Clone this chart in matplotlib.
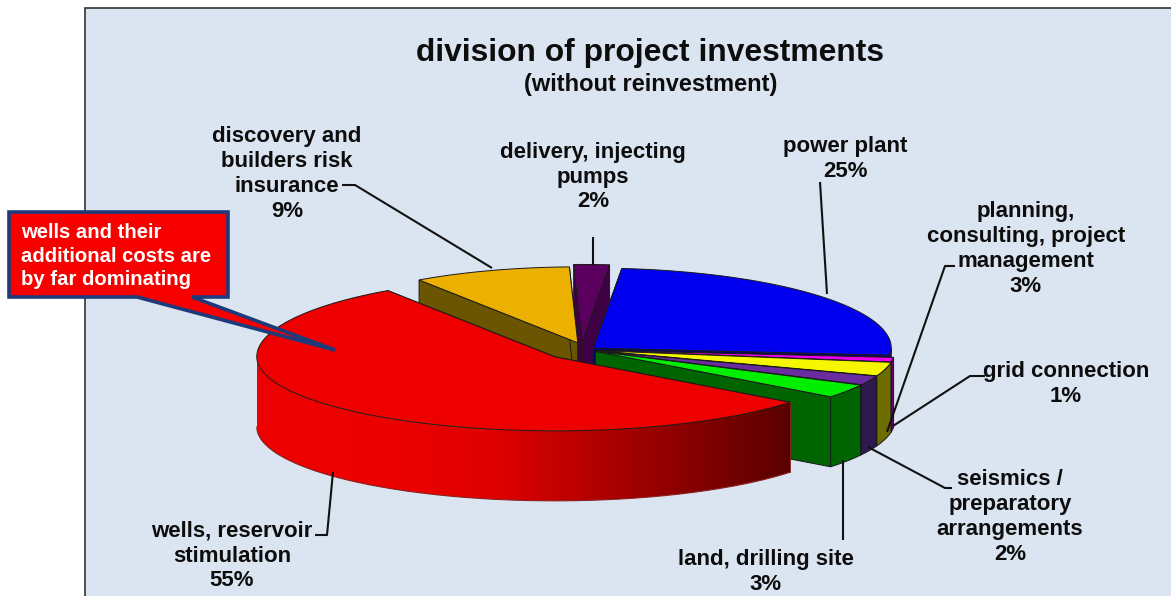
import numpy as np
import matplotlib
matplotlib.use("Agg")
import matplotlib.pyplot as plt
from matplotlib.patches import Polygon, Rectangle

# ---------- data ----------
slice_names = ["power plant", "grid connection", "planning, consulting, project management",
               "seismics / preparatory arrangements", "land, drilling site",
               "wells, reservoir stimulation", "discovery and builders risk insurance",
               "delivery, injecting pumps"]
slice_values = [25, 1, 3, 2, 3, 55, 9, 2]

# ---------- style ----------
top_colors = ["#0000ee", "#ee00ee", "#f6f600", "#6a2ca0", "#00ee00", "#ee0000", "#ecb000", "#5c0060"]
side_colors = ["#000070", "#700070", "#6e6e00", "#2e1a4e", "#006400", "#ee0000", "#6b5500", "#3f0045"]
explode = [12, 10, 10, 10, 10, 40, 30, 35]
radius_scale = [1, 1, 1, 1, 1, 1, 0.95, 0.96]
nudge_x = [-3, 0, 0, 0, 0, -3, 0, -6]
draw_order = [7, 6, 0, 1, 2, 3, 4, 5]
START_DEG = 84.5
CX, CY, RX, RY_BACK, RY_FRONT, DEPTH, K = 587, 350, 298, 80, 74, 70, 0.25
BG, NAVY = "#dbe5f1", "#1f3a7a"
EDGE = "#1a1a1a"

plt.rcParams["font.family"] = ["Liberation Sans", "DejaVu Sans"]
plt.rcParams["font.weight"] = "bold"

fig = plt.figure(figsize=(11.71, 5.96), dpi=100, facecolor="white")
ax = fig.add_axes([0, 0, 1, 1])
ax.set_xlim(0, 1171)
ax.set_ylim(596, 0)
ax.axis("off")

ax.add_patch(Rectangle((85, 8), 1200, 700, fc=BG, ec="#333333", lw=1.2, zorder=0))

fractions = np.array(slice_values) / sum(slice_values)
ends = START_DEG - 360 * np.cumsum(fractions)
starts = ends + 360 * fractions


def rim(apex, deg, scale=1.0):
    t = np.radians(deg)
    s = np.sin(t)
    ry = np.where(s >= 0, RY_BACK, RY_FRONT) * scale
    return apex[0] + RX * scale * np.cos(t), apex[1] - ry * s


z = 1
for i in draw_order:
    a0, a1 = starts[i], ends[i]
    sc = radius_scale[i]
    mid = np.radians((a0 + a1) / 2)
    apex = (CX + nudge_x[i] + explode[i] * np.cos(mid), CY - explode[i] * K * np.sin(mid))
    arc = np.linspace(a0, a1, max(int(abs(a0 - a1) * 2), 4))
    ax_, ay_ = rim(apex, arc, sc)

    # radial walls
    for a in (a0, a1):
        px, py = rim(apex, a, sc)
        ax.add_patch(Polygon([apex, (px, py), (px, py + DEPTH), (apex[0], apex[1] + DEPTH)],
                             fc=side_colors[i], ec=EDGE, lw=0.7, zorder=z))
    z += 1

    # outer wall (front half only)
    front = np.sin(np.radians(arc)) <= 0
    if front.any():
        fx, fy = ax_[front], ay_[front]
        order = np.argsort(fx)
        fx_s, fy_s = fx[order], fy[order]
        pts = list(zip(fx_s, fy_s)) + list(zip(fx_s[::-1], fy_s[::-1] + DEPTH))
        if slice_names[i].startswith("wells"):
            wall = Polygon(pts, fc="none", ec="none", zorder=z)
            ax.add_patch(wall)
            xs = np.arange(fx_s.min(), fx_s.max() + 1)
            rv = np.interp(xs, [256, 400, 502, 671, 789], [238, 235, 221, 144, 90]) / 255
            img = np.zeros((1, len(xs), 3))
            img[0, :, 0] = rv
            im = ax.imshow(img, extent=(xs[0], xs[-1], fy_s.max() + DEPTH + 2, fy_s.min() - 2),
                           aspect="auto", zorder=z, interpolation="bilinear")
            im.set_clip_path(wall)
            ax.plot(fx, fy + DEPTH, color="#8a2020", lw=0.8, zorder=z)
            ax.plot([fx[0], fx[0]], [fy[0], fy[0] + DEPTH], color="#8a2020", lw=0.6, zorder=z)
        else:
            ax.add_patch(Polygon(pts, fc=side_colors[i], ec=EDGE, lw=0.7, zorder=z))
    z += 1

    # top face
    pts = [apex] + list(zip(ax_, ay_))
    ax.add_patch(Polygon(pts, fc=top_colors[i], ec=EDGE, lw=0.7, zorder=z))
    z += 1

ax.set_xlim(0, 1171)
ax.set_ylim(596, 0)

LZ = 100
leaders = [
    ([342, 355, 492], [185, 185, 268]),
    ([593, 593], [237, 265]),
    ([820, 827], [182, 294]),
    ([955, 945, 887], [266, 266, 432]),
    ([985, 970, 893], [376, 376, 426]),
    ([868, 945, 952], [447, 488, 488]),
    ([843, 843], [460, 540]),
    ([333, 327, 315], [472, 535, 535]),
]
for lx, ly in leaders:
    ax.plot(lx, ly, color="#111111", lw=1.5, zorder=LZ, solid_capstyle="butt")

TXT = "#0d0d0d"
ax.text(650, 53, "division of project investments", fontsize=22.9, ha="center", va="center", color=TXT, zorder=LZ)
ax.text(651, 84, "(without reinvestment)", fontsize=17, ha="center", va="center", color=TXT, zorder=LZ)

labels = [
    (287, 174, "discovery and\nbuilders risk\ninsurance\n9%"),
    (593, 177, "delivery, injecting\npumps\n2%"),
    (845, 159, "power plant\n25%"),
    (1026, 249, "planning,\nconsulting, project\nmanagement\n3%"),
    (1066, 384, "grid connection\n1%"),
    (1010, 517, "seismics /\npreparatory\narrangements\n2%"),
    (766, 572, "land, drilling site\n3%"),
    (232, 556, "wells, reservoir\nstimulation\n55%"),
]
for x, y, s in labels:
    ax.text(x, y, s, fontsize=16, ha="center", va="center", color=TXT, linespacing=1.235, zorder=LZ)

# callout
ax.add_patch(Polygon([(9, 212), (228, 212), (228, 297), (192, 297), (335, 350), (137, 297), (9, 297)],
                     closed=True, fc="#f60000", ec=NAVY, lw=2.6, joinstyle="miter", zorder=LZ + 1))
ax.text(21, 256, "wells and their\nadditional costs are\nby far dominating", fontsize=14.6, color="white",
        ha="left", va="center", linespacing=1.327, zorder=LZ + 2)

fig.savefig("out.png", dpi=100, facecolor="white")
